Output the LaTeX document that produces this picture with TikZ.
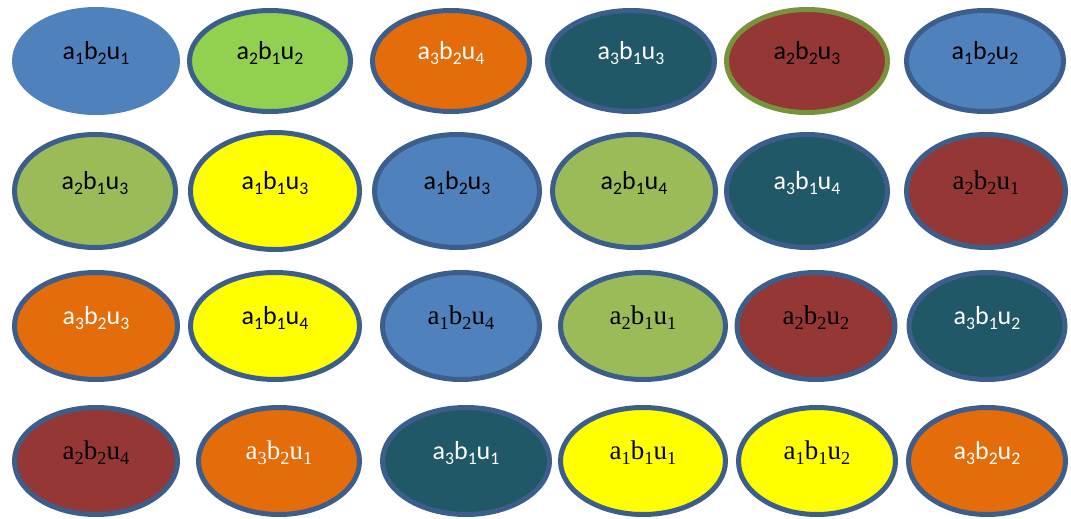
\documentclass[tikz,border=0pt]{standalone}
\usepackage{fontspec}
\setmainfont{Carlito}
\newfontfamily\serifface{Liberation Serif}
\usetikzlibrary{shapes.geometric}
\definecolor{cblue}{HTML}{4F81BD}
\definecolor{clgreen}{HTML}{92D050}
\definecolor{corange}{HTML}{E46C0A}
\definecolor{cteal}{HTML}{215867}
\definecolor{cred}{HTML}{953735}
\definecolor{colive}{HTML}{9BBB59}
\definecolor{cyellow}{HTML}{FFFF00}
\definecolor{cborder}{HTML}{3B5E8C}
\definecolor{cgborder}{HTML}{77933C}
\newcommand\lsub[1]{\raisebox{-0.18em}{\scalebox{0.68}{#1}}}
\newcommand\abu[3]{a\lsub{#1}b\lsub{#2}u\lsub{#3}}
\tikzset{
  ell/.style={ellipse, inner sep=0pt, draw=cborder, line width=5pt},
  sanslbl/.style={font=\fontsize{26}{30}\selectfont, inner sep=0pt},
  seriflbl/.style={font=\serifface\fontsize{27}{31}\selectfont, inner sep=0pt},
  dark/.style={text=black},
  light/.style={text=white},
}
\newcommand\ellip[9]{%
  \node[ell, fill=#5, minimum width=#3pt, minimum height=#4pt] (#1) at (#2) {};
  \node[#6, #7] (#1t) at ([yshift=8pt]#1.center) {#8};}
\begin{document}
\begin{tikzpicture}[x=1pt,y=-1pt]
\useasboundingbox (0,0) rectangle (1071,519);
% row 1
\node[ellipse, inner sep=0pt, fill=cblue, minimum width=168pt, minimum height=108pt] (e11) at (96,61) {};
\node[sanslbl, dark] (e11t) at ([yshift=8pt]e11.center) {\abu121};
\ellip{e12}{270,61}{161}{101}{clgreen}{sanslbl}{dark}{\abu212}{}
\ellip{e13}{451,61}{157}{101}{corange}{sanslbl}{light}{\abu324}{}
\ellip{e14}{631,61}{167}{101}{cteal}{sanslbl}{light}{\abu313}{}
\node[ell, draw=cgborder, fill=cred, minimum width=161pt, minimum height=103pt] (e15) at (807,61) {};
\node[sanslbl, dark] (e15t) at ([yshift=8pt]e15.center) {\abu223};
\ellip{e16}{985,61}{157}{101}{cblue}{sanslbl}{dark}{\abu122}{}
% row 2
\ellip{e21}{95,191}{161}{113}{colive}{sanslbl}{dark}{\abu213}{}
\ellip{e22}{275,191}{169}{117}{cyellow}{sanslbl}{dark}{\abu113}{}
\ellip{e23}{457,191}{165}{113}{cblue}{sanslbl}{dark}{\abu123}{}
\ellip{e24}{634,191}{163}{113}{colive}{sanslbl}{dark}{\abu214}{}
\ellip{e25}{807,191}{161}{113}{cteal}{sanslbl}{light}{\abu314}{}
\ellip{e26}{986,191}{159}{113}{cred}{seriflbl}{dark}{\abu221}{}
% row 3
\ellip{e31}{96,326}{163}{107}{corange}{sanslbl}{light}{\abu323}{}
\ellip{e32}{275,326}{169}{107}{cyellow}{sanslbl}{dark}{\abu114}{}
\ellip{e33}{461,326}{157}{107}{cblue}{seriflbl}{dark}{\abu124}{}
\ellip{e34}{643,326}{165}{107}{colive}{seriflbl}{dark}{\abu211}{}
\ellip{e35}{816,326}{158}{107}{cred}{seriflbl}{dark}{\abu222}{}
\ellip{e36}{987,326}{156}{107}{cteal}{sanslbl}{light}{\abu312}{}
% row 4
\ellip{e41}{96,461}{163}{107}{cred}{seriflbl}{dark}{\abu224}{}
\ellip{e42}{279,461}{161}{107}{corange}{seriflbl}{light}{\abu321}{}
\ellip{e43}{466,461}{167}{107}{cteal}{sanslbl}{light}{\abu311}{}
\ellip{e44}{643,461}{165}{107}{cyellow}{seriflbl}{dark}{\abu111}{}
\ellip{e45}{817,461}{157}{107}{cyellow}{seriflbl}{dark}{\abu112}{}
\ellip{e46}{987,461}{157}{107}{corange}{sanslbl}{light}{\abu322}{}
\end{tikzpicture}
\end{document}
